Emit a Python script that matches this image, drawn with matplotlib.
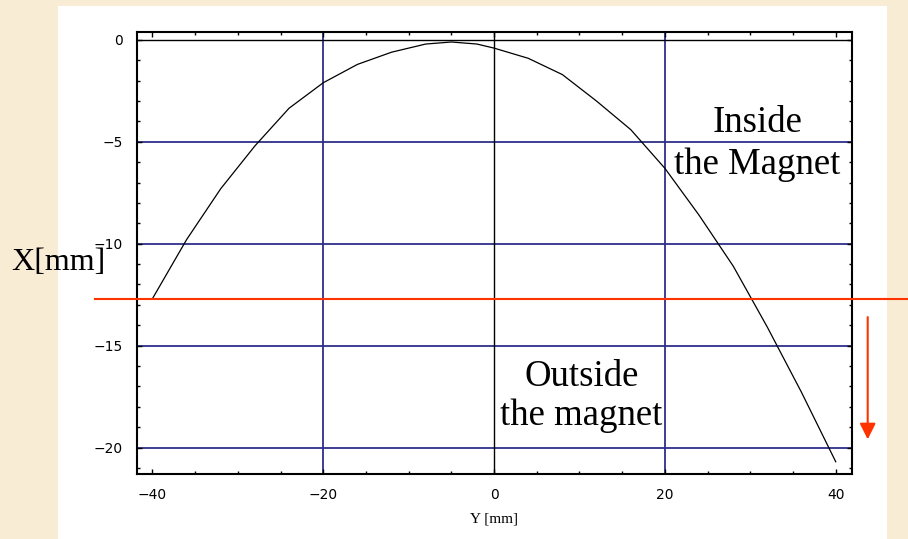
import numpy as np
import matplotlib
matplotlib.use("Agg")
import matplotlib.pyplot as plt
from matplotlib.patches import Rectangle
from matplotlib.ticker import MultipleLocator

# beam trajectory: transverse offset X vs position Y (both in mm)
y_pos = [-40, -36, -32, -28, -24, -20, -16, -12, -8, -5, -2, 0,
         4, 8, 12, 16, 20, 24, 28, 32, 36, 40]
x_off = [-12.7, -9.8, -7.3, -5.2, -3.35, -2.1, -1.2, -0.6, -0.2, -0.1, -0.2, -0.4,
         -0.9, -1.7, -3.0, -4.4, -6.3, -8.6, -11.1, -14.1, -17.3, -20.7]

grid_x = [-20, 20]
grid_y = [-5, -10, -15, -20]
x_ticks = [-40, -20, 0, 20, 40]
y_ticks = [0, -5, -10, -15, -20]
magnet_edge = -12.7

grid_col = "#2e2e8c"
edge_col = "#ff3300"
serif = ["Liberation Serif", "DejaVu Serif"]

fig = plt.figure(figsize=(9.08, 5.39), dpi=100)
fig.patch.set_facecolor("#f8ecd5")
fig.patches.append(Rectangle((0.0639, 0.0), 0.913, 0.9889, transform=fig.transFigure,
                             facecolor="white", edgecolor="none", zorder=-5))

ax = fig.add_axes([0.1509, 0.1206, 0.7874, 0.82])
ax.set_facecolor("white")
ax.set_xlim(-41.8, 41.9)
ax.set_ylim(-21.3, 0.39)

for gx in grid_x:
    ax.axvline(gx, color=grid_col, lw=1.3, zorder=1)
for gy in grid_y:
    ax.axhline(gy, color=grid_col, lw=1.3, zorder=1)
ax.axhline(0, color="black", lw=1.0, zorder=1)
ax.axvline(0, color="black", lw=1.0, zorder=1)

ax.plot(y_pos, x_off, color="black", lw=0.9, zorder=3)

# magnet boundary line, runs past the frame
ax.plot([-0.059, 1.08], [magnet_edge, magnet_edge], color=edge_col, lw=1.5,
        transform=ax.get_yaxis_transform(), clip_on=False, zorder=4)
ax.annotate("", xy=(1.022, -19.6), xytext=(1.022, -13.6),
            xycoords=ax.get_yaxis_transform(), textcoords=ax.get_yaxis_transform(),
            arrowprops=dict(arrowstyle="-|>", color=edge_col, lw=1.5,
                            mutation_scale=24, shrinkA=0, shrinkB=0),
            annotation_clip=False)

ax.set_xticks(x_ticks)
ax.set_yticks(y_ticks)
ax.set_xticklabels([str(v).replace("-", "\u2212") for v in x_ticks])
ax.set_yticklabels([str(v).replace("-", "\u2212") for v in y_ticks])
ax.xaxis.set_minor_locator(MultipleLocator(5))
ax.yaxis.set_minor_locator(MultipleLocator(1))
ax.tick_params(which="both", direction="in", top=True, right=True,
               width=1.0, labelsize=10, colors="black")
ax.tick_params(which="major", length=3.3, pad=10)
ax.tick_params(which="minor", length=2.0)
for sp in ax.spines.values():
    sp.set_linewidth(1.5)

ax.set_xlabel("Y [mm]", family=serif, fontsize=11, labelpad=8)

ax.text(30.8, -5.1, "Inside\nthe Magnet", family=serif, fontsize=26.5,
        ha="center", va="center", multialignment="center", linespacing=1.28, zorder=5)
ax.text(10.2, -17.5, "Outside\nthe magnet", family=serif, fontsize=26.5,
        ha="center", va="center", multialignment="center", linespacing=1.17, zorder=5)
fig.text(58 / 908, 1 - 262 / 539, "X[mm]", family=serif, fontsize=23,
         ha="center", va="center")

fig.savefig("out.png", dpi=100, facecolor=fig.get_facecolor())
